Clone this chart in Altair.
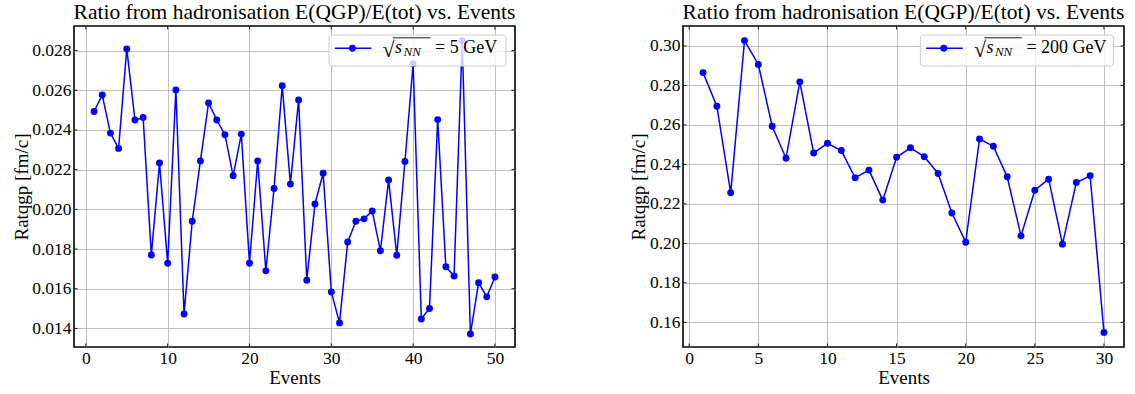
import altair as alt
import pandas as pd

# Ratio E(QGP)/E(tot) from hadronisation, event by event
events_5 = list(range(1, 51))
ratio_5 = [0.02493, 0.02576, 0.02384, 0.02307, 0.02808, 0.02450, 0.02463, 0.01770, 0.02233, 0.01728,
           0.02601, 0.01473, 0.01940, 0.02244, 0.02536, 0.02450, 0.02376, 0.02169, 0.02379, 0.01728,
           0.02243, 0.01690, 0.02105, 0.02623, 0.02127, 0.02551, 0.01643, 0.02027, 0.02182, 0.01584,
           0.01428, 0.01835, 0.01940, 0.01952, 0.01992, 0.01791, 0.02148, 0.01769, 0.02241, 0.02733,
           0.01448, 0.01500, 0.02452, 0.01711, 0.01664, 0.02849, 0.01372, 0.01630, 0.01559, 0.01659]

events_200 = list(range(1, 31))
ratio_200 = [0.2865, 0.2695, 0.2256, 0.3027, 0.2906, 0.2593, 0.2431, 0.2818, 0.2458, 0.2507,
             0.2470, 0.2332, 0.2371, 0.2219, 0.2436, 0.2484, 0.2439, 0.2354, 0.2154, 0.2006,
             0.2529, 0.2492, 0.2337, 0.2038, 0.2269, 0.2325, 0.1996, 0.2308, 0.2342, 0.1549]

# axis ranges and tick positions
xdom_5, ydom_5 = [-1.45, 52.45], [0.013065, 0.029235]
xticks_5 = [0, 10, 20, 30, 40, 50]
yticks_5 = [0.014, 0.016, 0.018, 0.020, 0.022, 0.024, 0.026, 0.028]

xdom_200, ydom_200 = [-0.45, 31.45], [0.1475, 0.3101]
xticks_200 = [0, 5, 10, 15, 20, 25, 30]
yticks_200 = [0.16, 0.18, 0.20, 0.22, 0.24, 0.26, 0.28, 0.30]

TITLE = "Ratio from hadronisation E(QGP)/E(tot) vs. Events"
SERIF = "Liberation Serif"
BLUE = "#0000ff"
W, H = 441, 321
TICK = 3.5


def panel(events, ratio, xdom, ydom, xticks, yticks, yfmt, energy, box_left, y_extent):
    df = pd.DataFrame({"event": events, "ratio": ratio})
    xs = alt.Scale(domain=xdom, nice=False, zero=False)
    ys = alt.Scale(domain=ydom, nice=False, zero=False)
    x = alt.X("event:Q", scale=xs,
              axis=alt.Axis(values=xticks, format="d", title="Events",
                            labelPadding=2, titlePadding=2))
    y = alt.Y("ratio:Q", scale=ys,
              axis=alt.Axis(values=yticks, format=yfmt, title="Ratqgp [fm/c]",
                            labelPadding=3, minExtent=y_extent, maxExtent=y_extent,
                            titlePadding=3))

    line = alt.Chart(df).mark_line(color=BLUE, strokeWidth=1.5).encode(x=x, y=y)
    pts = alt.Chart(df).mark_point(filled=True, size=48, color=BLUE, opacity=1).encode(x=x, y=y)

    # inward ticks on all four sides
    xt = pd.DataFrame({"event": xticks})
    yt = pd.DataFrame({"ratio": yticks})
    tick_style = dict(color="black", strokeWidth=0.9)
    xb = alt.Chart(xt).mark_rule(**tick_style).encode(x=x, y=alt.value(H), y2=alt.value(H - TICK))
    xtop = alt.Chart(xt).mark_rule(**tick_style).encode(x=x, y=alt.value(0), y2=alt.value(TICK))
    yl = alt.Chart(yt).mark_rule(**tick_style).encode(y=y, x=alt.value(0), x2=alt.value(TICK))
    yr = alt.Chart(yt).mark_rule(**tick_style).encode(y=y, x=alt.value(W), x2=alt.value(W - TICK))

    # legend box
    one = pd.DataFrame({"k": [0]})
    L = box_left
    box_w = 177 if energy == "5" else 193
    box = alt.Chart(one).mark_rect(fill="white", fillOpacity=0.8, stroke="#cccccc",
                                   strokeWidth=1, cornerRadius=3).encode(
        x=alt.value(L), x2=alt.value(L + box_w), y=alt.value(9), y2=alt.value(40))
    key_line = alt.Chart(one).mark_rule(color=BLUE, strokeWidth=1.5).encode(
        x=alt.value(L + 5.7), x2=alt.value(L + 42.4), y=alt.value(22.3))
    key_pt = alt.Chart(one).mark_point(filled=True, size=48, color=BLUE, opacity=1).encode(
        x=alt.value(L + 23.4), y=alt.value(22.3))
    radical = alt.Chart(one).mark_text(text="√", font=SERIF, fontSize=22,
                                       align="left", baseline="alphabetic", color="black").encode(
        x=alt.value(L + 53.5), y=alt.value(31))
    vinculum = alt.Chart(one).mark_rule(color="black", strokeWidth=0.9).encode(
        x=alt.value(L + 64), x2=alt.value(L + 101.5), y=alt.value(11.8))
    s_txt = alt.Chart(one).mark_text(text="s", font=SERIF, fontSize=18, fontStyle="italic",
                                     align="left", baseline="alphabetic", color="black").encode(
        x=alt.value(L + 66), y=alt.value(27.3))
    nn_txt = alt.Chart(one).mark_text(text="NN", font=SERIF, fontSize=13, fontStyle="italic",
                                      align="left", baseline="alphabetic", color="black").encode(
        x=alt.value(L + 74.5), y=alt.value(30))
    rest = alt.Chart(one).mark_text(text=f"= {energy} GeV", font=SERIF, fontSize=18,
                                    align="left", baseline="alphabetic", color="black").encode(
        x=alt.value(L + 106), y=alt.value(27.3))

    return alt.layer(line, pts, xb, xtop, yl, yr, box, key_line, key_pt,
                     radical, vinculum, s_txt, nn_txt, rest).properties(
        width=W, height=H, title=TITLE)


left = panel(events_5, ratio_5, xdom_5, ydom_5, xticks_5, yticks_5, ".3f", "5", 255, 40)
right = panel(events_200, ratio_200, xdom_200, ydom_200, xticks_200, yticks_200, ".2f", "200", 237.4, 32)

chart = alt.hconcat(left, right, spacing=168, bounds="flush").properties(
    padding={"left": 11, "top": 0, "right": 5, "bottom": 5}
).configure_view(
    stroke="black", strokeWidth=1.6
).configure_axis(
    labelFont=SERIF, labelFontSize=17.5, labelColor="black",
    titleFont=SERIF, titleFontSize=19, titleFontWeight="normal", titleColor="black",
    grid=True, gridColor="#b0b0b0", gridWidth=0.8, domain=False, ticks=False
).configure_title(
    font=SERIF, fontSize=21.5, fontWeight="normal", color="black", anchor="middle", offset=2.5
)

chart.save("out.html", embed_options={"renderer": "svg", "actions": False})
